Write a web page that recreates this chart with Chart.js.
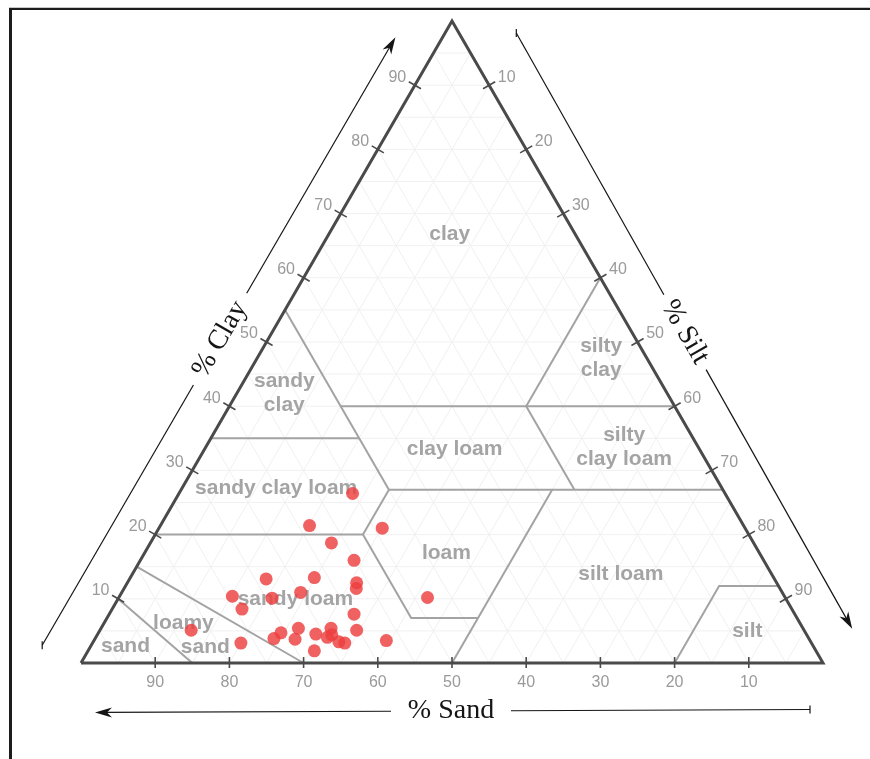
<!DOCTYPE html>
<html>
<head>
<meta charset="utf-8">
<script src="https://cdn.jsdelivr.net/npm/chart.js@4.4.1/dist/chart.umd.min.js"></script>
<style>
  html, body { margin: 0; padding: 0; background: #fff; }
  canvas { display: block; }
</style>
</head>
<body>
<canvas id="soil" width="870" height="759"></canvas>
<script>
// Sample compositions, percent by mass (silt is the remainder)
const sandPct = [50.2, 58.5, 48.9, 56.9, 55.2, 68.5, 61.9, 56.6, 57.1, 64.9,
                 74.4, 69.2, 74.1, 48.2, 59.4, 68.0, 63.6, 60.3, 70.7, 66.1,
                 72.1, 69.3, 64.0, 64.8, 63.6, 62.9, 57.1, 76.9, 67.6, 82.6];
const clayPct = [26.4, 21.4, 21.0, 18.7, 16.0, 13.1, 13.3, 12.5, 11.6, 11.0,
                 10.4, 10.1,  8.4, 10.2,  7.6,  5.4,  5.4,  5.1,  4.7,  4.5,
                  3.8,  3.7,  4.4,  4.0,  3.3,  3.1,  3.5,  3.1,  1.9,  5.1];

// Axis ticks (percent)
const tickValues = [10, 20, 30, 40, 50, 60, 70, 80, 90];

// USDA texture class boundaries as [sand, clay] polylines
const classBoundaries = [
  [[45, 40], [0, 40]],
  [[20, 40], [0, 60]],
  [[45, 55], [45, 27]],
  [[65, 35], [45, 35]],
  [[45, 27], [0, 27]],
  [[20, 40], [20, 27]],
  [[45, 27], [52, 20], [52, 7], [43, 7]],
  [[50, 0], [23, 27]],
  [[80, 20], [52, 20]],
  [[85, 15], [70, 0]],
  [[90, 10], [85, 0]],
  [[0, 12], [8, 12], [20, 0]]
];

// Texture class names and where they sit ([sand, clay])
const classNames = ['clay', 'sandy\nclay', 'clay loam', 'silty\nclay', 'silty\nclay loam',
                    'sandy clay loam', 'loam', 'silt loam', 'sandy loam',
                    'loamy', 'sand', 'sand', 'silt'];
const classSand  = [16.9, 51.6, 33.0,  6.2, 10.0, 60.1, 42.2, 20.3, 66.1, 83.1, 82.0, 92.7, 7.7];
const classClay  = [66.8, 42.0, 33.3, 47.4, 33.6, 27.2, 17.1, 13.9, 10.0,  6.2,  2.5,  2.6, 5.0];

// ternary (sand, clay) -> cartesian (x along the base, y = clay)
const toXY = (sand, clay) => ({ x: 100 - sand - clay / 2, y: clay });

const datasets = [{
  label: 'samples',
  data: sandPct.map((s, i) => toXY(s, clayPct[i])),
  pointRadius: 6.5,
  pointHoverRadius: 6.5,
  pointBackgroundColor: 'rgba(237,62,62,0.82)',
  pointBorderWidth: 0,
  pointBorderColor: 'rgba(0,0,0,0)',
  showLine: false,
  order: 0,
  clip: false
}, {
  label: 'outline',
  data: [toXY(100, 0), toXY(0, 0), toXY(0, 100), toXY(100, 0)],
  showLine: true,
  borderColor: '#4a4a4a',
  borderWidth: 3,
  borderJoinStyle: 'miter',
  pointRadius: 0,
  order: 1,
  clip: false
}];
classBoundaries.forEach((line, i) => datasets.push({
  label: 'boundary' + i,
  data: line.map(p => toXY(p[0], p[1])),
  showLine: true,
  borderColor: '#a3a3a3',
  borderWidth: 2,
  pointRadius: 0,
  order: 2,
  clip: false
}));

function pix(chart, sand, clay) {
  const p = toXY(sand, clay);
  return { x: chart.scales.x.getPixelForValue(p.x), y: chart.scales.y.getPixelForValue(p.y) };
}

function seg(ctx, a, b) {
  ctx.beginPath();
  ctx.moveTo(a.x, a.y);
  ctx.lineTo(b.x, b.y);
  ctx.stroke();
}

// Axis arrow running alongside an edge from P towards Q
function axisArrow(ctx, P, Q, spec) {
  const len = Math.hypot(Q.x - P.x, Q.y - P.y);
  const u = { x: (Q.x - P.x) / len, y: (Q.y - P.y) / len };
  const n = { x: u.y, y: -u.x };
  const at = t => {
    const d = spec.d0 + (spec.d1 - spec.d0) * (t - spec.t0) / (spec.t1 - spec.t0);
    return { x: P.x + u.x * t + n.x * d, y: P.y + u.y * t + n.y * d };
  };
  ctx.save();
  ctx.strokeStyle = '#151515';
  ctx.fillStyle = '#151515';
  ctx.lineWidth = 1.2;
  const a = at(spec.t0), b = at(spec.t1);
  seg(ctx, a, at(spec.tc - spec.gap));
  seg(ctx, at(spec.tc + spec.gap), at(spec.t1 - 8));
  // tail bar
  seg(ctx, { x: a.x, y: a.y - 4 }, { x: a.x, y: a.y + 4 });
  // barbed head
  const ux = (b.x - at(spec.t1 - 10).x) / 10, uy = (b.y - at(spec.t1 - 10).y) / 10;
  const nx = -uy, ny = ux;
  ctx.beginPath();
  ctx.moveTo(b.x, b.y);
  ctx.lineTo(b.x - ux * 17 + nx * 5, b.y - uy * 17 + ny * 5);
  ctx.lineTo(b.x - ux * 12, b.y - uy * 12);
  ctx.lineTo(b.x - ux * 17 - nx * 5, b.y - uy * 17 - ny * 5);
  ctx.closePath();
  ctx.fill();
  // title
  const c = at(spec.tc);
  let ang = Math.atan2(u.y, u.x);
  if (ang > Math.PI / 2) ang -= Math.PI;
  if (ang < -Math.PI / 2) ang += Math.PI;
  ctx.translate(c.x, c.y);
  ctx.rotate(ang);
  ctx.font = '28px "Liberation Serif", "Times New Roman", serif';
  ctx.textAlign = 'center';
  ctx.textBaseline = 'middle';
  ctx.fillText(spec.title, 0, 0);
  ctx.restore();
}

const ternaryPlugin = {
  id: 'ternary',
  beforeDraw(chart) {
    const ctx = chart.ctx;
    ctx.save();
    ctx.fillStyle = '#ffffff';
    ctx.fillRect(0, 0, chart.width, chart.height);
    // page frame
    ctx.fillStyle = '#c8c8c8';
    ctx.fillRect(9, 7, chart.width - 9, 1);
    ctx.fillStyle = '#1c1c1c';
    ctx.fillRect(9, 8, chart.width - 9, 2);
    ctx.fillRect(9, 8, 3, chart.height - 8);
    ctx.restore();
  },
  beforeDatasetsDraw(chart) {
    const ctx = chart.ctx;
    ctx.save();
    ctx.strokeStyle = '#f1f1f1';
    ctx.lineWidth = 1;
    for (let v = 5; v < 100; v += 5) {
      seg(ctx, pix(chart, 100 - v, v), pix(chart, 0, v));
      seg(ctx, pix(chart, v, 0), pix(chart, v, 100 - v));
      seg(ctx, pix(chart, 100 - v, 0), pix(chart, 0, 100 - v));
    }
    ctx.restore();
  },
  beforeDatasetDraw(chart, args) {
    if (args.index !== 0) return;
    const ctx = chart.ctx;
    ctx.save();
    ctx.fillStyle = '#a4a4a4';
    ctx.font = 'bold 21px "Liberation Sans", Arial, sans-serif';
    ctx.textAlign = 'center';
    ctx.textBaseline = 'middle';
    classNames.forEach((name, i) => {
      const p = pix(chart, classSand[i], classClay[i]);
      const lines = name.split('\n');
      lines.forEach((ln, k) => {
        ctx.fillText(ln, p.x, p.y + (k - (lines.length - 1) / 2) * 24);
      });
    });
    ctx.restore();
  },
  afterDatasetsDraw(chart) {
    const ctx = chart.ctx;
    const A = pix(chart, 100, 0);   // pure sand corner
    const B = pix(chart, 0, 0);     // pure silt corner
    const C = pix(chart, 0, 100);   // pure clay corner
    ctx.save();
    ctx.strokeStyle = '#4a4a4a';
    ctx.lineWidth = 1.6;
    ctx.fillStyle = '#9a9a9a';
    ctx.font = '16px "Liberation Sans", Arial, sans-serif';
    const nClay = { x: -Math.sqrt(3) / 2, y: -0.5 };
    const nSilt = { x: Math.sqrt(3) / 2, y: -0.5 };
    tickValues.forEach(v => {
      // sand along the base
      const s = pix(chart, v, 0);
      seg(ctx, { x: s.x, y: s.y - 6 }, { x: s.x, y: s.y + 5 });
      ctx.textAlign = 'center';
      ctx.textBaseline = 'middle';
      ctx.fillText(String(v), s.x, s.y + 20);
      // clay along the left edge
      const c = pix(chart, 100 - v, v);
      seg(ctx, { x: c.x + nClay.x * 7, y: c.y + nClay.y * 7 }, { x: c.x - nClay.x * 7, y: c.y - nClay.y * 7 });
      ctx.textAlign = 'right';
      ctx.fillText(String(v), c.x + nClay.x * 10, c.y + nClay.y * 10 - 3);
      // silt along the right edge
      const t = pix(chart, 0, 100 - v);
      seg(ctx, { x: t.x + nSilt.x * 7, y: t.y + nSilt.y * 7 }, { x: t.x - nSilt.x * 7, y: t.y - nSilt.y * 7 });
      ctx.textAlign = 'left';
      ctx.fillText(String(v), t.x + nSilt.x * 10, t.y + nSilt.y * 10 - 3);
    });
    ctx.restore();

    axisArrow(ctx, A, C, { t0: -4, t1: 699, d0: 42.5, d1: 40.8, tc: 350, gap: 53, title: '% Clay' });
    axisArrow(ctx, C, B, { t0: 42.5, t1: 726.5, d0: 49.7, d1: 42.4, tc: 386, gap: 43, title: '% Silt' });
    axisArrow(ctx, B, A, { t0: 13, t1: 728, d0: 46.5, d1: 49.5, tc: 372, gap: 60, title: '% Sand' });
  }
};

new Chart(document.getElementById('soil'), {
  type: 'scatter',
  data: { datasets },
  options: {
    responsive: false,
    animation: false,
    events: [],
    layout: { padding: { left: 81, right: 47, top: 21, bottom: 96 } },
    scales: {
      x: { type: 'linear', min: 0, max: 100, display: false },
      y: { type: 'linear', min: 0, max: 100, display: false }
    },
    plugins: { legend: { display: false }, tooltip: { enabled: false } }
  },
  plugins: [ternaryPlugin]
});
</script>
</body>
</html>
